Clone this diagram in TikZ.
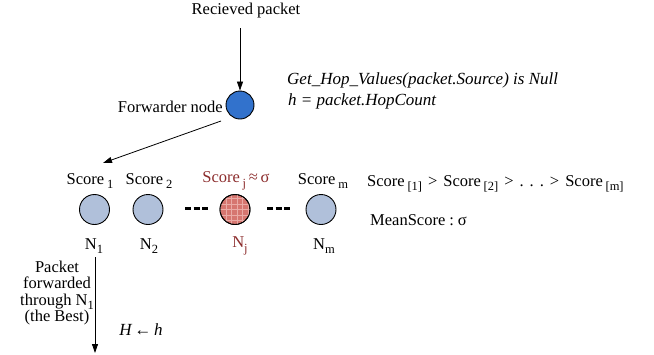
\documentclass[tikz,border=0pt]{standalone}
\usepackage{fontspec}
\setmainfont{Liberation Serif}
\usetikzlibrary{arrows.meta}
\definecolor{nodeblue}{RGB}{50,114,204}
\definecolor{nodegray}{RGB}{176,192,218}
\definecolor{nodered}{RGB}{214,118,112}
\definecolor{gridred}{RGB}{234,170,165}
\definecolor{textred}{RGB}{140,45,45}
\newcommand\mysub[1]{\raisebox{-0.28em}{\fontsize{12.5}{13}\selectfont #1}}
\newcommand\gap{\hspace{6pt}}
\tikzset{
 lbl/.style={font=\fontsize{16.5}{19}\selectfont, inner sep=0pt},
 itlbl/.style={font=\fontsize{17}{19}\selectfont\itshape, inner sep=0pt},
 nd/.style={circle, draw=black, line width=0.9pt, minimum size=30pt, inner sep=0pt, fill=nodegray},
 arr/.style={-{Triangle[length=9pt,width=6pt]}, line width=0.8pt},
 dotsline/.style={line width=3pt, dash pattern=on 6pt off 2.6pt}
}
\begin{document}
\begin{tikzpicture}[x=1pt,y=-1pt]
\useasboundingbox (0,0) rectangle (654,354);
% top
\node[lbl] (recv) at (246,11) {Recieved packet};
\node[nd, fill=nodeblue, minimum size=28pt] (fwd) at (240,105) {};
\node[lbl, anchor=east] (fwdl) at (223,107) {Forwarder node};
\coordinate (recvb) at (240,28);
\draw[arr] (recvb) -- (fwd);
\node[itlbl, anchor=west] (gethop) at (287,80) {Get\_Hop\_Values(packet.Source) is Null};
\node[itlbl, anchor=west] (hcount) at (288,101) {h = packet.HopCount};
\coordinate (f0) at (221,121);
\coordinate (s1tip) at (103,163);
\draw[arr] (f0) -- (s1tip);
% scores
\node[lbl] (s1) at (90,181) {Score\,\mysub{1}};
\node[lbl] (s2) at (149,181) {Score\,\mysub{2}};
\node[lbl, text=textred] (sj) at (236,181) {Score\,\mysub{j}\,≈\,σ};
\node[lbl] (sm) at (323,181) {Score\,\mysub{m}};
% nodes
\node[nd] (n1) at (94.5,209.5) {};
\node[nd] (n2) at (148,209.5) {};
\node[nd, fill=nodered] (nj) at (235,209.5) {};
\begin{scope}
\clip (nj.center) circle[radius=15pt];
\draw[gridred, line width=1pt, shift={(0.5,0.5)}] (215,190) grid[step=5.5pt] (256,230);
\end{scope}
\draw[line width=0.9pt] (nj.center) circle[radius=15pt];
\node[nd] (nm) at (321,209.5) {};
\coordinate (d1a) at (185,208);
\coordinate (d1b) at (208,208);
\coordinate (d2a) at (267,208);
\coordinate (d2b) at (290,208);
\draw[dotsline] (d1a) -- (d1b);
\draw[dotsline] (d2a) -- (d2b);
% N labels
\node[lbl] (l1) at (94,246) {N\mysub{1}};
\node[lbl] (l2) at (149,246) {N\mysub{2}};
\node[lbl, text=textred] (lj) at (240,246) {N\mysub{j}};
\node[lbl] (lm) at (324,246) {N\mysub{m}};
% bottom
\coordinate (bottop) at (95,257);
\coordinate (bot) at (95,353);
\draw[arr] (bottop) -- (bot);
\node[lbl, align=center, font=\fontsize{16.5}{16.5}\selectfont] (fwdtext) at (57,293) {Packet\\forwarded\\through N\mysub{1}\\(the Best)};
\node[itlbl] (hh) at (141,330) {H\,←\,h};
% right
\node[lbl, anchor=west] (order) at (367,184) {Score\,\mysub{[1]}\gap>\gap Score\,\mysub{[2]}\gap>\gap.\gap.\gap.\gap>\gap Score\,\mysub{[m]}};
\node[lbl, anchor=west] (mean) at (370,220) {MeanScore\hspace{4pt}:\hspace{4pt}σ};
\end{tikzpicture}
\end{document}
